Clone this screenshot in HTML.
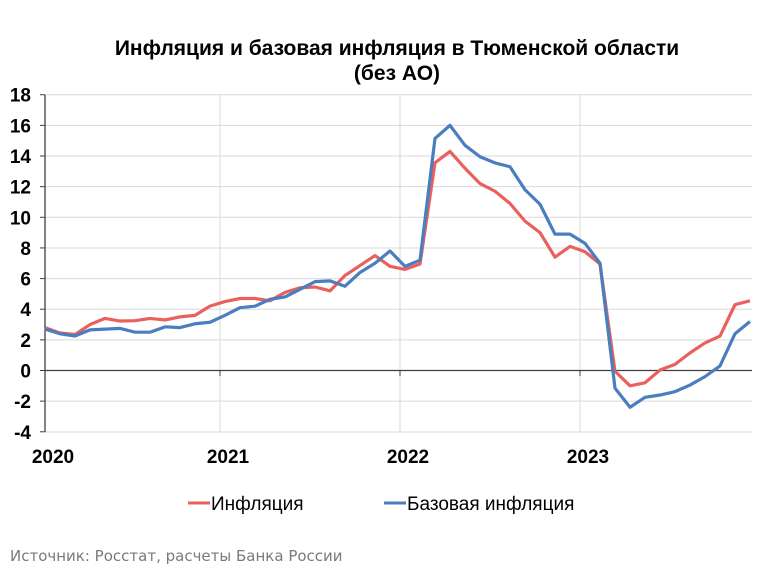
<!DOCTYPE html>
<html><head><meta charset="utf-8"><style>
body{margin:0;background:#fff;width:760px;height:570px;overflow:hidden;font-family:"Liberation Sans",sans-serif}
</style></head><body>
<svg width="760" height="570" id="c" xmlns="http://www.w3.org/2000/svg">
<text x="397" y="55" text-anchor="middle" font-size="21" font-weight="bold">Инфляция и базовая инфляция в Тюменской области</text>
<text x="397" y="80" text-anchor="middle" font-size="21" font-weight="bold">(без АО)</text>
<g id="grid"></g><g id="axes"></g><g id="lines"></g>
<g>
<line x1="188" y1="503" x2="210" y2="503" stroke="#e8615f" stroke-width="3"/>
<text x="211" y="510" font-size="19">Инфляция</text>
<line x1="384" y1="503" x2="406" y2="503" stroke="#4a7ebf" stroke-width="3"/>
<text x="407" y="510" font-size="19">Базовая инфляция</text>
</g>
<text x="10" y="561" font-size="15" fill="#7a7a7a" font-family="DejaVu Sans, sans-serif">Источник: Росстат, расчеты Банка России</text>
</svg>
<script>
const yTicks=[18,16,14,12,10,8,6,4,2,0,-2,-4];
const yearLabels=["2020","2021","2022","2023"];
const inflation=[2.8,2.45,2.35,3.0,3.4,3.23,3.25,3.4,3.3,3.5,3.6,4.2,4.5,4.7,4.7,4.55,5.1,5.4,5.45,5.2,6.2,6.85,7.5,6.8,6.6,6.95,13.56,14.3,13.2,12.2,11.7,10.9,9.75,9.0,7.4,8.1,7.75,6.95,-0.05,-1.0,-0.8,0.03,0.4,1.15,1.8,2.25,4.3,4.55];
const core=[2.7,2.4,2.25,2.65,2.7,2.75,2.5,2.5,2.85,2.8,3.05,3.15,3.6,4.1,4.2,4.65,4.8,5.3,5.8,5.85,5.5,6.4,7.0,7.8,6.8,7.2,15.15,16.0,14.7,13.95,13.55,13.3,11.8,10.85,8.9,8.9,8.3,7.0,-1.15,-2.4,-1.75,-1.6,-1.38,-0.95,-0.4,0.3,2.4,3.2];
const NS="http://www.w3.org/2000/svg";
const yS=v=>370.5-v*15.32;
const xS=i=>45+i*15;
const grid=document.getElementById('grid'),axes=document.getElementById('axes'),lines=document.getElementById('lines');
function mk(tag,attrs,parent){const e=document.createElementNS(NS,tag);for(const k in attrs)e.setAttribute(k,attrs[k]);parent.appendChild(e);return e;}
yTicks.forEach(v=>{
  if(v!==0&&v!==-4){const g=mk('line',{x1:45,x2:752,y1:yS(v),y2:yS(v),stroke:'#d9d9d9','stroke-width':1},grid);
  
  }
  const t=mk('text',{x:31,y:yS(v)+7,'text-anchor':'end','font-size':19,'font-weight':'bold'},axes);
  t.textContent=v;
  
  
  const tk=mk('line',{x1:40,x2:45,y1:yS(v),y2:yS(v),stroke:'#404040'},axes);
  
  
});
yearLabels.forEach((lab,k)=>{
  const gx=xS(12*k)-(k?5:0);
  if(k>0){const g=mk('line',{x1:gx,x2:gx,y1:95,y2:432,stroke:'#d9d9d9'},grid);
  
  }
  const tk=mk('line',{x1:gx,x2:gx,y1:370.5,y2:376,stroke:'#404040'},axes);
  
  
  const t=mk('text',{x:gx+8,y:463,'text-anchor':'middle','font-size':19,'font-weight':'bold'},axes);
  t.textContent=lab;
  
  
});
const bottom=mk('line',{x1:45,x2:752,y1:432,y2:432,stroke:'#d9d9d9'},grid);


const ya=mk('line',{x1:45,x2:45,y1:95,y2:432,stroke:'#404040','stroke-width':1.3},axes);


const xa=mk('line',{x1:45,x2:752,y1:yS(0),y2:yS(0),stroke:'#404040','stroke-width':1.3},axes);


function series(arr,color,name){
  const p=mk('polyline',{points:arr.map((v,i)=>xS(i)+','+yS(v)).join(' '),fill:'none',stroke:color,'stroke-width':3.2,'stroke-linejoin':'round'},lines);
  
  
}
series(inflation,'#e8615f','inflation-line');
series(core,'#4a7ebf','core-inflation-line');
</script>
</body></html>
